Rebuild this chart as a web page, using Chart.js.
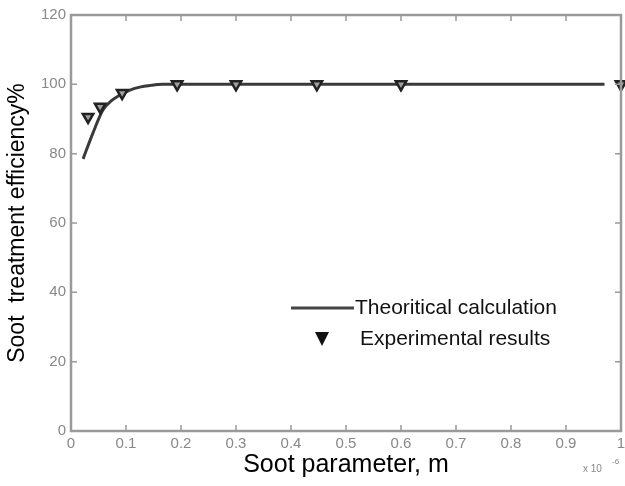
<!DOCTYPE html>
<html>
<head>
<meta charset="utf-8">
<script src="https://cdn.jsdelivr.net/npm/chart.js@4.4.0/dist/chart.umd.min.js"></script>
<style>
  html, body { margin: 0; padding: 0; background: #fff; }
  #wrap { width: 625px; height: 486px; position: relative; }
</style>
</head>
<body>
<div id="wrap"><canvas id="grafico"></canvas></div>
<script>
// theoretical curve
const curveX = [0.022, 0.04, 0.058, 0.073, 0.089, 0.105, 0.125, 0.145, 0.167, 0.97]
const curveY = [78.5, 86, 92.6, 95.2, 96.9, 98.2, 99.2, 99.7, 100, 100]

// experimental points
const expX = [0.031, 0.053, 0.093, 0.193, 0.3, 0.447, 0.6, 1.0]
const expY = [90.6, 93.5, 97.5, 100, 100, 100, 100, 100]

const xTicks = [0, 0.1, 0.2, 0.3, 0.4, 0.5, 0.6, 0.7, 0.8, 0.9, 1]
const xTickLabels = ['0', '0.1', '0.2', '0.3', '0.4', '0.5', '0.6', '0.7', '0.8', '0.9', '1']
const yTicks = [0, 20, 40, 60, 80, 100, 120]
const yTickLabels = ['0', '20', '40', '60', '80', '100', '120']

const fonte = '"Liberation Sans", Arial, sans-serif'

function juntaPontos(xs, ys){
  return xs.map((x, i) => ({x: x, y: ys[i]}))
}

// box with inward ticks, legend and the x10^-6 note
const caixa = {
  id: 'caixa',
  afterDraw(chart){
    const ctx = chart.ctx
    const a = chart.chartArea
    const sx = chart.scales.x
    const sy = chart.scales.y
    ctx.save()
    ctx.strokeStyle = '#9a9a9a'
    ctx.lineWidth = 2.5
    ctx.strokeRect(a.left, a.top, a.right - a.left, a.bottom - a.top)
    ctx.lineWidth = 1.5
    ctx.beginPath()
    xTicks.forEach(v => {
      const px = sx.getPixelForValue(v)
      ctx.moveTo(px, a.bottom); ctx.lineTo(px, a.bottom - 6)
      ctx.moveTo(px, a.top); ctx.lineTo(px, a.top + 6)
    })
    yTicks.forEach(v => {
      const py = sy.getPixelForValue(v)
      ctx.moveTo(a.left, py); ctx.lineTo(a.left + 6, py)
      ctx.moveTo(a.right, py); ctx.lineTo(a.right - 6, py)
    })
    ctx.stroke()

    // legend
    ctx.strokeStyle = '#444'
    ctx.lineWidth = 3
    ctx.beginPath()
    ctx.moveTo(291, 308); ctx.lineTo(354, 308)
    ctx.stroke()
    ctx.fillStyle = '#111'
    ctx.beginPath()
    ctx.moveTo(315, 332); ctx.lineTo(329, 332); ctx.lineTo(322, 346)
    ctx.closePath()
    ctx.fill()
    ctx.font = '21px ' + fonte
    ctx.textBaseline = 'middle'
    ctx.textAlign = 'left'
    ctx.fillText('Theoritical calculation', 355, 308)
    ctx.fillText('Experimental results', 360, 339)

    // exponent note
    ctx.fillStyle = '#888'
    ctx.font = '10px ' + fonte
    ctx.fillText('x 10', 583, 469)
    ctx.font = '8px ' + fonte
    ctx.fillText('-6', 612, 462)
    ctx.restore()
  }
}

const graficoFuligem = new Chart(document.querySelector('#grafico'), {
  type: 'scatter',
  data: {
    datasets: [{
      label: 'Theoritical calculation',
      data: juntaPontos(curveX, curveY),
      showLine: true,
      borderColor: '#3a3a3a',
      borderWidth: 3,
      pointRadius: 0,
      cubicInterpolationMode: 'monotone',
      order: 2
    }, {
      label: 'Experimental results',
      data: juntaPontos(expX, expY),
      showLine: false,
      pointStyle: 'triangle',
      rotation: 180,
      pointRadius: 6,
      backgroundColor: '#a0a0a0',
      borderColor: '#222',
      borderWidth: 2.5,
      clip: false,
      order: 1
    }]
  },
  options: {
    responsive: true,
    maintainAspectRatio: false,
    animation: false,
    layout: { autoPadding: false, padding: { top: 15, right: 4, left: 0, bottom: 0 } },
    plugins: { legend: { display: false }, tooltip: { enabled: false } },
    scales: {
      x: {
        type: 'linear', min: 0, max: 1,
        afterBuildTicks: s => { s.ticks = xTicks.map(v => ({value: v})) },
        afterFit: s => { s.height = 55; s.paddingLeft = 0; s.paddingRight = 0 },
        grid: { display: false, drawTicks: false },
        border: { display: false },
        ticks: {
          padding: 4, color: '#888', font: { family: fonte, size: 15 },
          maxRotation: 0, autoSkip: false,
          callback: (v, i) => xTickLabels[i]
        },
        title: {
          display: true, text: 'Soot parameter, m', color: '#000',
          font: { family: fonte, size: 25 }, padding: { top: 0, bottom: 6 }
        }
      },
      y: {
        type: 'linear', min: 0, max: 120,
        afterBuildTicks: s => { s.ticks = yTicks.map(v => ({value: v})) },
        afterFit: s => { s.width = 71; s.paddingTop = 0; s.paddingBottom = 0 },
        grid: { display: false, drawTicks: false },
        border: { display: false },
        ticks: {
          padding: 5, color: '#888', font: { family: fonte, size: 15 },
          autoSkip: false,
          callback: (v, i) => yTickLabels[i]
        },
        title: {
          display: true, text: 'Soot  treatment efficiency%', color: '#000',
          font: { family: fonte, size: 23 }, padding: { top: 4, bottom: 0 }
        }
      }
    }
  },
  plugins: [caixa]
})
</script>
</body>
</html>
